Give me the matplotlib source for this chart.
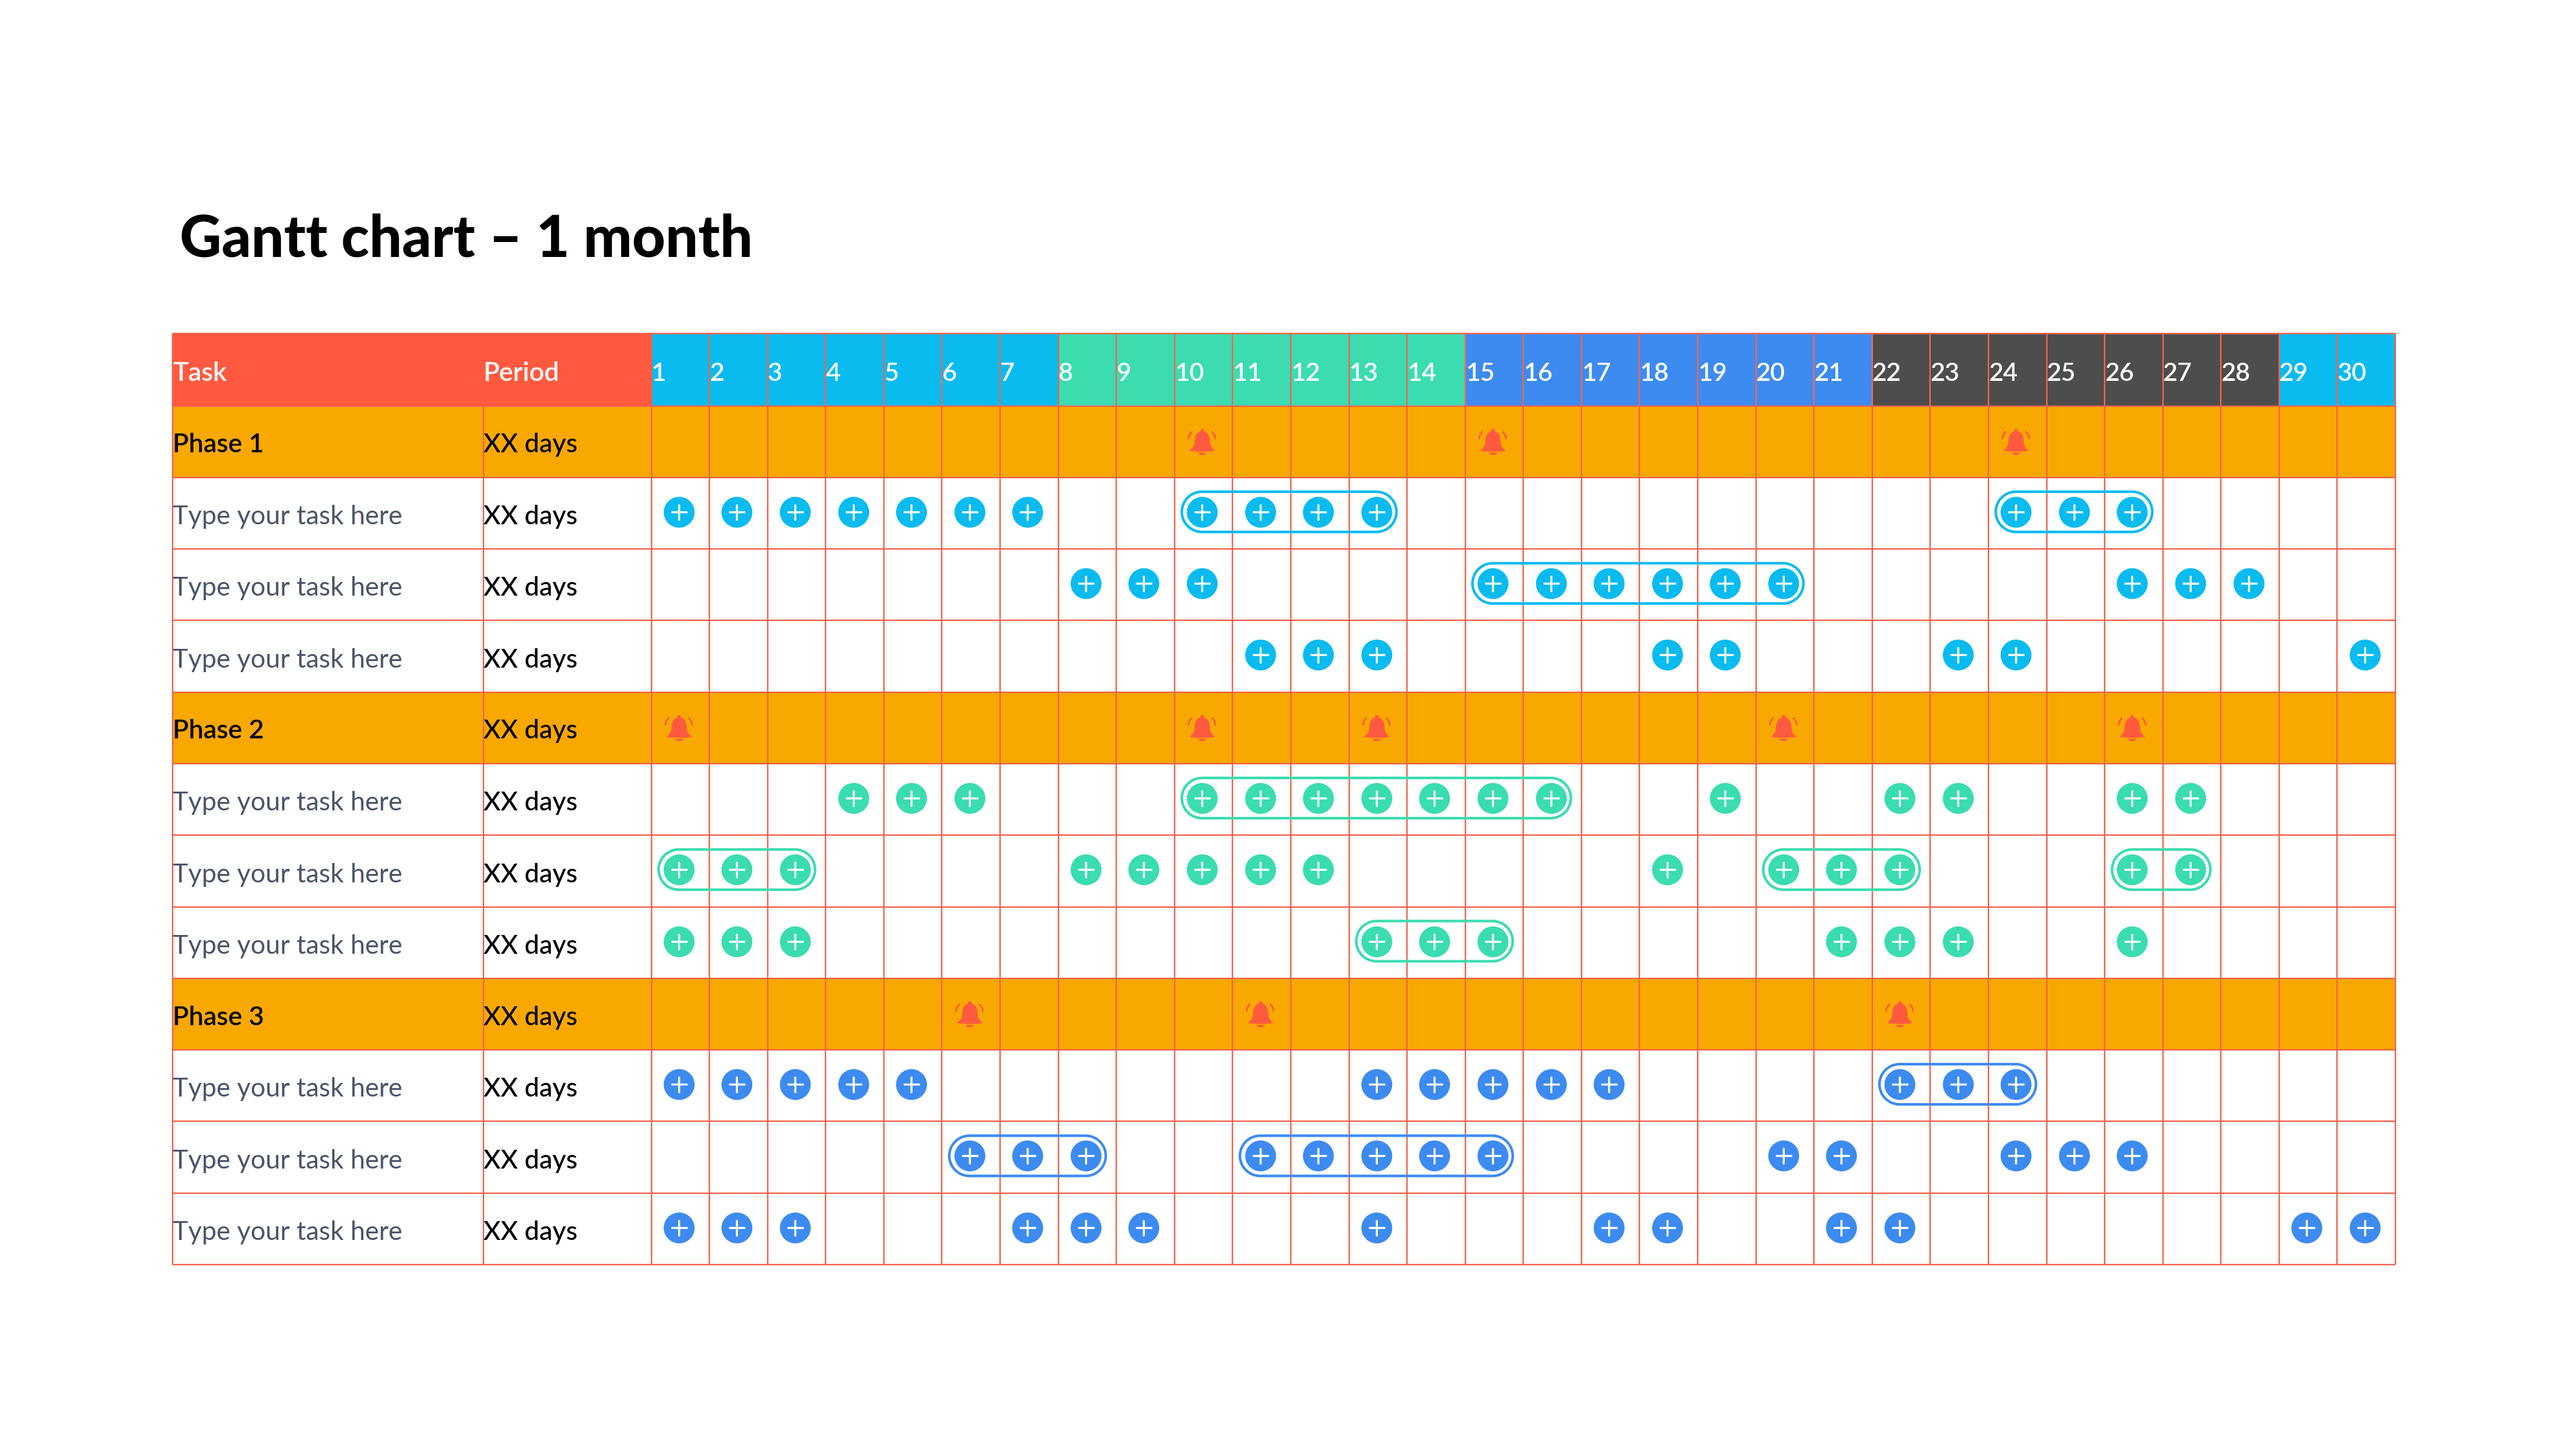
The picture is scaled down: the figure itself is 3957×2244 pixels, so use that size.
import matplotlib
matplotlib.use("Agg")
import matplotlib.pyplot as plt
from matplotlib.patches import PathPatch, Rectangle
from matplotlib.path import Path

W, H = 3957, 2244
FONT = "Lato"

title = "Gantt chart – 1 month"
header_task = "Task"
header_period = "Period"
days = list(range(1, 31))
cyan, green, blue, dark = "#0ABBF0", "#3ADCB0", "#3D8BF0", "#4D4D4D"
day_colors = [cyan]*7 + [green]*7 + [blue]*7 + [dark]*7 + [cyan]*2

row_labels = ["Phase 1", "Type your task here", "Type your task here", "Type your task here",
              "Phase 2", "Type your task here", "Type your task here", "Type your task here",
              "Phase 3", "Type your task here", "Type your task here", "Type your task here"]
period_label = "XX days"

phase_bells = {
    0: [10, 15, 24],
    4: [1, 10, 13, 20, 26],
    8: [6, 11, 22],
}

task_points = {
    1: [1, 2, 3, 4, 5, 6, 7, 10, 11, 12, 13, 24, 25, 26],
    2: [8, 9, 10, 15, 16, 17, 18, 19, 20, 26, 27, 28],
    3: [11, 12, 13, 18, 19, 23, 24, 30],
    5: [4, 5, 6, 10, 11, 12, 13, 14, 15, 16, 19, 22, 23, 26, 27],
    6: [1, 2, 3, 8, 9, 10, 11, 12, 18, 20, 21, 22, 26, 27],
    7: [1, 2, 3, 13, 14, 15, 21, 22, 23, 26],
    9: [1, 2, 3, 4, 5, 13, 14, 15, 16, 17, 22, 23, 24],
    10: [6, 7, 8, 11, 12, 13, 14, 15, 20, 21, 24, 25, 26],
    11: [1, 2, 3, 7, 8, 9, 13, 17, 18, 21, 22, 29, 30],
}
task_colors = {1: cyan, 2: cyan, 3: cyan, 5: green, 6: green, 7: green, 9: blue, 10: blue, 11: blue}
task_pills = {
    1: [(10, 13), (24, 26)],
    2: [(15, 20)],
    5: [(10, 16)],
    6: [(1, 3), (20, 22), (26, 27)],
    7: [(13, 15)],
    9: [(22, 24)],
    10: [(6, 8), (11, 15)],
}

RED, ORANGE, GRID = "#FF5A40", "#F9A800", "#F4644C"

# table geometry, in pixels of the output image
L, P, D, R = 265.5, 744.5, 1003.5, 3691.0
T, HB, B = 514.0, 625.6, 1949.0
dw = (R - D) / 30
rh = (B - HB) / 12
px = 72 / 100  # points per pixel

fig = plt.figure(figsize=(W/100, H/100), dpi=100, facecolor="white")
ax = fig.add_axes([L/W, 1 - B/H, (R-L)/W, (B-T)/H])
ax.set_xlim(0.5 - (D-L)/dw, 30.5)
ax.set_ylim(11.5, -0.5 - (HB-T)/rh)
ax.axis("off")

xL = 0.5 - (D-L)/dw
xP = 0.5 - (D-P)/dw
yT = -0.5 - (HB-T)/rh

# fills
for d, c in zip(days, day_colors):
    ax.add_patch(Rectangle((d-0.5, yT), 1, -0.5-yT, fc=c, ec="none", zorder=1))
for r in phase_bells:
    ax.add_patch(Rectangle((xL, r-0.5), 30.5-xL, 1, fc=ORANGE, ec="none", zorder=1))

# grid
lw = 1.6
for y in [yT] + [r-0.5 for r in range(13)]:
    ax.plot([xL, 30.5], [y, y], color=GRID, lw=lw, zorder=2, clip_on=False, solid_capstyle="butt")
for x in [xL, xP] + [d-0.5 for d in days] + [30.5]:
    ax.plot([x, x], [yT, 11.5], color=GRID, lw=lw, zorder=2, clip_on=False, solid_capstyle="butt")
ax.add_patch(Rectangle((xL, yT), 0.5-xL, -0.5-yT, fc=RED, ec="none", zorder=3))

# pills
dx, dy = -0.028, -0.02
KAPPA = 0.5523
def pill_path(x0, x1, yc, rx, ry):
    k = KAPPA
    a, b = x0 + rx, x1 - rx
    v = [(a, yc-ry), (b, yc-ry),
         (b+k*rx, yc-ry), (x1, yc-k*ry), (x1, yc),
         (x1, yc+k*ry), (b+k*rx, yc+ry), (b, yc+ry),
         (a, yc+ry),
         (a-k*rx, yc+ry), (x0, yc+k*ry), (x0, yc),
         (x0, yc-k*ry), (a-k*rx, yc-ry), (a, yc-ry),
         (a, yc-ry)]
    c = [Path.MOVETO, Path.LINETO] + [Path.CURVE4]*6 + [Path.LINETO] + [Path.CURVE4]*6 + [Path.CLOSEPOLY]
    return Path(v, c)

for r, spans in task_pills.items():
    for a, b in spans:
        ax.add_patch(PathPatch(pill_path(a+dx-31/dw, b+dx+31/dw, r+dy, 31/dw, 31/rh),
                               fc="none", ec=task_colors[r], lw=4*px, zorder=4))

# points
circle_s = (47.6*px)**2
plus_s = (25*px)**2
for r, ds in task_points.items():
    xs = [d+dx for d in ds]
    ys = [r+dy]*len(ds)
    ax.scatter(xs, ys, s=circle_s, c=task_colors[r], linewidths=0, zorder=5)
    ax.scatter(xs, ys, s=plus_s, c="white", marker="+", linewidths=3.2*px, zorder=6)

# bell marker (unit shape)
C3, C4 = Path.CURVE3, Path.CURVE4
bell_verts = [(-0.06, -0.5), (-0.06, -0.42), (-0.28, -0.36), (-0.30, -0.12), (-0.30, 0.08), (-0.34, 0.2), (-0.44, 0.28),
              (-0.48, 0.32), (-0.44, 0.37), (0.44, 0.37), (0.48, 0.32), (0.44, 0.28), (0.34, 0.2),
              (0.30, 0.08), (0.30, -0.12), (0.28, -0.36), (0.06, -0.42), (0.06, -0.5), (-0.06, -0.5)]
bell_codes = [Path.MOVETO, Path.LINETO, C4, C4, C4, C4, C4, C4, C4, Path.LINETO, C4, C4, C4, C4, C4, C4, C4,
              Path.LINETO, Path.CLOSEPOLY]
bell_body = Path(bell_verts, bell_codes)
clap = Path([(-0.16, 0.40), (-0.1, 0.52), (0.1, 0.52), (0.16, 0.40), (-0.16, 0.40)],
            [Path.MOVETO, C4, C4, C4, Path.CLOSEPOLY])
wave_l = Path([(-0.40, -0.42), (-0.56, -0.28), (-0.55, -0.1)], [Path.MOVETO, C3, C3])
wave_r = Path([(0.40, -0.42), (0.56, -0.28), (0.55, -0.1)], [Path.MOVETO, C3, C3])
def flip(p):
    return Path([(x, -y) for x, y in p.vertices], p.codes)
for r, ds in phase_bells.items():
    xs = [d+dx for d in ds]
    ys = [r]*len(ds)
    ax.scatter(xs, ys, s=(42*px)**2, c=RED, marker=flip(Path.make_compound_path(bell_body, clap)), linewidths=0, zorder=5)
    for w in (wave_l, wave_r):
        ax.scatter(xs, ys, s=(42*px)**2, facecolors="none", edgecolors=RED, marker=flip(w), linewidths=2.6*px, zorder=5)

# text
fs = 40.5 * px
txt = dict(family=FONT, fontsize=fs, va="baseline", ha="left", zorder=7)
hy = (yT-0.5)/2 + 0.16
ax.text(xL+1/dw, hy, header_task, color="white", fontweight="semibold", **txt)
ax.text(xP+0/dw, hy, header_period, color="white", fontweight="semibold", **txt)
for d in days:
    ax.text(d-0.5+0/dw, hy, str(d), color="white", fontweight="semibold", fontsize=fs*0.96,
            **{k: v for k, v in txt.items() if k != "fontsize"})
for r, label in enumerate(row_labels):
    is_phase = r in phase_bells
    yb = r + (0.15 if is_phase else 0.155)
    ax.text(xL+0/dw, yb, label, color="black" if is_phase else "#4A5568",
            fontweight="semibold" if is_phase else "normal", **txt)
    ax.text(xP+0/dw, yb, period_label, color="black", fontweight="medium", **txt)

fig.text(277/W, 1 - 396/H, title, family=FONT, fontsize=89*px, fontweight="black", color="black", va="baseline")

fig.savefig("out.png", dpi=100, facecolor="white")
